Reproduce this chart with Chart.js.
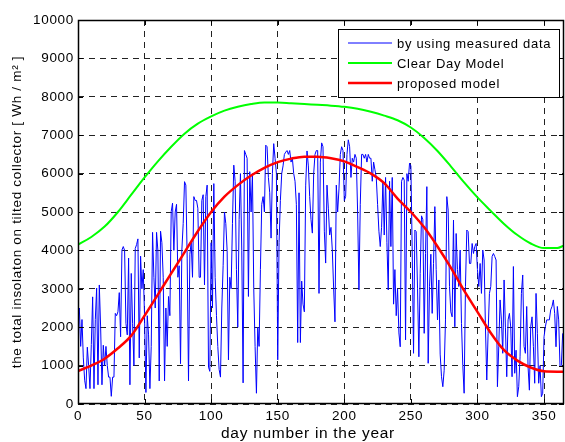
<!DOCTYPE html>
<html><head><meta charset="utf-8">
<script src="https://cdn.jsdelivr.net/npm/chart.js@4.4.1/dist/chart.umd.min.js"></script>
<style>html,body{margin:0;padding:0;background:#fff;overflow:hidden}</style>
</head><body>
<canvas id="c" width="565" height="442" style="width:565px;height:442px;display:block"></canvas>
<script>
// measured daily insolation, day 0 .. 364
const measured = [
2300,2500,1500,2200,1200,620,400,1480,1000,400,
1550,2790,400,2200,3020,500,3100,2000,500,1530,
1000,1500,1000,700,700,200,700,700,2360,2300,
2400,2900,1750,4010,4100,4000,2100,1800,3800,500,
3400,2100,1000,4050,4150,4300,1200,3850,3000,3500,
2260,300,2300,1800,400,1500,4470,3300,2500,4470,
4000,600,4500,4200,3300,600,2500,1500,2800,2300,
5010,5230,4000,5000,5200,3300,3600,1050,4000,4700,
5790,5700,3800,600,3900,4200,3300,5400,5300,5300,
5100,3300,3300,5300,5450,3100,5400,5700,960,850,
4200,2500,5740,3300,2300,1500,900,700,2500,3600,
5000,4700,4000,1150,3300,3000,4700,6220,5800,3500,
2000,4800,6000,4000,550,6600,6500,6400,2800,6050,
5000,6000,3000,1500,280,2000,1500,3500,5200,5400,
5000,6740,6700,5900,5500,4320,6000,6780,6400,6000,
1150,4200,5300,6000,6200,6500,6560,6600,6500,6600,
6300,6400,6000,5800,5200,1600,5500,1600,3200,2600,
2400,5700,6590,6200,5400,4800,4450,6000,6500,6600,
6600,2880,6300,6800,6700,4500,3670,5700,5100,4400,
4600,4000,3000,2140,5700,5000,5600,6500,6700,6600,
5300,5400,6500,6880,6700,5900,6400,6300,6500,6400,
5000,2970,5200,6500,6500,6400,6500,6300,6500,6400,
6400,5800,6300,6100,5900,5200,4500,4100,4600,5800,
4400,5900,4200,2970,5800,4100,5900,2600,3500,2300,
3000,1850,1490,5800,5900,5830,1670,6000,5800,6270,
6200,4000,1320,4530,4490,3000,1230,3400,4900,4800,
1840,3920,5660,1060,3060,3900,2360,3660,5140,3500,
2190,3230,1300,710,450,880,2190,5400,5050,3060,
2400,2270,4790,2010,4440,3500,3060,4010,2100,1000,
280,3060,4530,4490,3660,3660,4180,3920,4100,4180,
3500,3060,3660,2880,4010,3750,2000,625,1840,2880,
3060,3840,3920,3840,3750,450,1490,2710,2190,1320,
3230,2000,710,2190,2360,2000,710,3580,800,1400,
190,450,1230,2880,3360,1500,1320,2540,970,360,
2010,2270,1500,540,2880,1840,540,1000,190,280,
1750,2010,2190,2190,2190,2450,2540,2710,2360,1490,
2540,2190,970,1000,1840
];
const modelDays = [0,10,20,30,40,50,60,70,80,90,100,110,120,130,140,150,160,170,180,190,200,210,220,230,240,250,260,270,280,290,300,310,320,330,340,350,360,365];
const clearDayModel = [4150,4350,4620,5000,5450,5900,6320,6700,7040,7300,7490,7640,7740,7810,7850,7850,7830,7810,7790,7770,7740,7690,7610,7510,7390,7200,6930,6590,6190,5770,5380,5030,4690,4400,4180,4060,4060,4130];
const proposedModel = [860,1000,1180,1450,1780,2300,2850,3400,3950,4500,5000,5400,5700,5950,6150,6300,6390,6440,6440,6400,6320,6170,6000,5750,5350,5000,4600,4100,3550,2950,2400,1850,1400,1130,950,850,840,840];
const xTicks = [0,50,100,150,200,250,300,350];
const yTicks = [0,1000,2000,3000,4000,5000,6000,7000,8000,9000,10000];
const seriesLabels = ['by using measured data','Clear Day Model','proposed model'];
const xTitle = 'day number in the year';
const yTitle = 'the total insolaton on tilted collector [ Wh / m\u00B2 ]';

const FONT = "'Liberation Sans', Arial, Helvetica, sans-serif";
Chart.defaults.font.family = FONT;
Chart.defaults.color = '#000';

const measuredPts = measured.map((v, i) => ({x: i, y: v}));
const clearPts = modelDays.map((d, i) => ({x: d, y: clearDayModel[i]}));
const propPts = modelDays.map((d, i) => ({x: d, y: proposedModel[i]}));

const spacingPlugin = {
  id: 'spacing',
  beforeUpdate(chart) { chart.ctx.letterSpacing = '0.7px'; },
  beforeDraw(chart) { chart.ctx.letterSpacing = '0.7px'; }
};

const boxPlugin = {
  id: 'matlabBox',
  afterDraw(chart) {
    const {ctx, chartArea: a, scales} = chart;
    ctx.save();
    ctx.strokeStyle = '#000';
    ctx.lineWidth = 1;
    ctx.setLineDash([]);
    ctx.beginPath();
    xTicks.forEach(v => {
      const px = Math.round(scales.x.getPixelForValue(v)) + 0.5;
      ctx.moveTo(px, a.bottom); ctx.lineTo(px, a.bottom - 5);
      ctx.moveTo(px, a.top); ctx.lineTo(px, a.top + 5);
    });
    yTicks.forEach(v => {
      const py = Math.round(scales.y.getPixelForValue(v)) + 0.5;
      ctx.moveTo(a.left, py); ctx.lineTo(a.left + 5, py);
      ctx.moveTo(a.right, py); ctx.lineTo(a.right - 5, py);
    });
    ctx.stroke();
    ctx.lineWidth = 1.5;
    ctx.strokeRect(Math.round(a.left) + 0.5, Math.round(a.top) + 0.5, Math.round(a.right - a.left) - 1, Math.round(a.bottom - a.top) - 1);
    // x axis title
    ctx.fillStyle = '#000';
    ctx.font = '15.5px ' + FONT;
    ctx.textAlign = 'center';
    ctx.textBaseline = 'middle';
    ctx.fillText(xTitle, 308, 434);
    // legend
    const lx = 338.5, ly = 29.5, lw = 221, lh = 68;
    ctx.fillStyle = '#fff';
    ctx.fillRect(lx, ly, lw, lh);
    ctx.lineWidth = 1;
    ctx.strokeStyle = '#000';
    ctx.strokeRect(lx, ly, lw, lh);
    ctx.font = '13px ' + FONT;
    ctx.textBaseline = 'middle';
    ctx.textAlign = 'left';
    chart.data.datasets.forEach((ds, i) => {
      const y = 43 + i * 20;
      ctx.strokeStyle = ds.borderColor;
      ctx.lineWidth = ds.borderWidth;
      ctx.beginPath();
      ctx.moveTo(348, y); ctx.lineTo(392, y);
      ctx.stroke();
      ctx.fillStyle = '#000';
      ctx.fillText(ds.label, 397, y + 1);
    });
    ctx.restore();
  }
};

new Chart(document.getElementById('c'), {
  type: 'line',
  data: {
    datasets: [
      {label: seriesLabels[0], data: measuredPts, borderColor: '#0000ff', borderWidth: 1, pointRadius: 0, tension: 0, order: 3},
      {label: seriesLabels[1], data: clearPts, borderColor: '#00ff00', borderWidth: 2, pointRadius: 0, cubicInterpolationMode: 'monotone', order: 2},
      {label: seriesLabels[2], data: propPts, borderColor: '#ff0000', borderWidth: 2.5, pointRadius: 0, cubicInterpolationMode: 'monotone', order: 1}
    ]
  },
  options: {
    responsive: false,
    animation: false,
    devicePixelRatio: 1,
    layout: {padding: {top: 20, right: 1, left: 0, bottom: 0}},
    plugins: {legend: {display: false}, tooltip: {enabled: false}},
    scales: {
      x: {
        type: 'linear', min: 0, max: 365,
        afterBuildTicks: s => { s.ticks = xTicks.map(v => ({value: v})); },
        afterFit: s => { s.height = 38; },
        ticks: {font: {size: 13.5}, color: '#000', padding: 4, maxRotation: 0, autoSkip: false, callback: v => String(v)},
        grid: {color: '#222', lineWidth: 1, drawTicks: false},
        border: {display: false, dash: [6, 5]},
        title: {display: false, text: xTitle}
      },
      y: {
        type: 'linear', min: 0, max: 10000,
        afterBuildTicks: s => { s.ticks = yTicks.map(v => ({value: v})); },
        afterFit: s => { s.width = 78; },
        ticks: {font: {size: 13.5}, color: '#000', padding: 4, callback: v => String(v)},
        grid: {color: '#222', lineWidth: 1, drawTicks: false},
        border: {display: false, dash: [6, 5]},
        title: {display: true, text: yTitle, font: {size: 13.5}, color: '#000', padding: {top: 9, bottom: 0}}
      }
    }
  },
  plugins: [spacingPlugin, boxPlugin]
});
</script>
</body></html>
